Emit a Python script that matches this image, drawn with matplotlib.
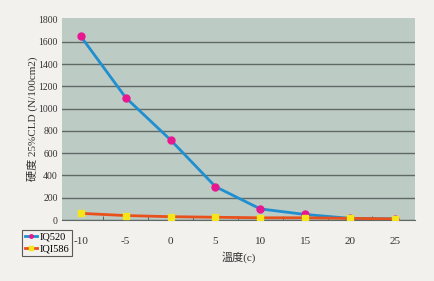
import matplotlib
matplotlib.use("Agg")
import matplotlib.pyplot as plt
from matplotlib.ticker import FixedLocator

plt.rcParams['font.family'] = ['Liberation Serif', 'Noto Sans CJK TC', 'DejaVu Sans']

temps = ['-10', '-5', '0', '5', '10', '15', '20', '25']
iq520 = [1650, 1100, 720, 300, 100, 50, 15, 10]
iqi586 = [60, 40, 30, 25, 20, 20, 15, 10]
yticks = [0, 200, 400, 600, 800, 1000, 1200, 1400, 1600, 1800]

fig = plt.figure(figsize=(4.35, 2.81), dpi=100)
fig.patch.set_facecolor('#f3f1ee')
ax = fig.add_axes([0.1425, 0.217, 0.954 - 0.1425, 0.936 - 0.217])
ax.set_facecolor('#bdcbc5')

x = list(range(len(temps)))
ax.set_xlim(-0.42, 7.45)
ax.set_ylim(0, 1815)
ax.set_yticks(yticks)
ax.yaxis.grid(True, color='#5f6a66', linewidth=1.0)
ax.get_ygridlines()[-1].set_visible(False)
ax.set_axisbelow(True)

l1, = ax.plot(x, iq520, color='#1f8fd0', linewidth=2.0, marker='o', markersize=5,
              markerfacecolor='#e8178f', markeredgecolor='#e8178f', label='IQ520', zorder=3)
l2, = ax.plot(x, iqi586, color='#e8501c', linewidth=2.0, marker='s', markersize=4.5,
              markerfacecolor='#f4e61a', markeredgecolor='#f4e61a', label='IQI586', zorder=3)

ax.set_xticks(x)
ax.set_xticklabels(temps)
ax.xaxis.set_minor_locator(FixedLocator([i + 0.5 for i in range(-1, 8)]))
ax.tick_params(axis='x', which='major', length=0, pad=12, labelsize=8, colors='#333333')
ax.tick_params(axis='x', which='minor', length=3, direction='in', color='#4a5450')
ax.tick_params(axis='y', length=0, pad=3, labelsize=7, colors='#333333')
for s in ['top', 'right', 'left']:
    ax.spines[s].set_visible(False)
ax.spines['bottom'].set_color('#5f6a66')

ax.set_ylabel('硬度 25%CLD (N/100cm2)', fontsize=8, color='#333333', labelpad=0)
ax.set_xlabel('溫度(c)', fontsize=8, color='#333333', labelpad=4)

leg = fig.legend(handles=[l1, l2], loc='upper left', bbox_to_anchor=(22 / 435, 1 - 230 / 281),
                 borderaxespad=0,
                 fontsize=7.5, frameon=True, fancybox=False, handlelength=1.2, handletextpad=0.2,
                 borderpad=0.25, labelspacing=0.2, markerscale=0.5)
leg.get_frame().set_edgecolor('#333333')
leg.get_frame().set_facecolor('#f3f1ee')
leg.get_frame().set_linewidth(0.8)

fig.savefig('out.png', dpi=100, facecolor=fig.get_facecolor())
